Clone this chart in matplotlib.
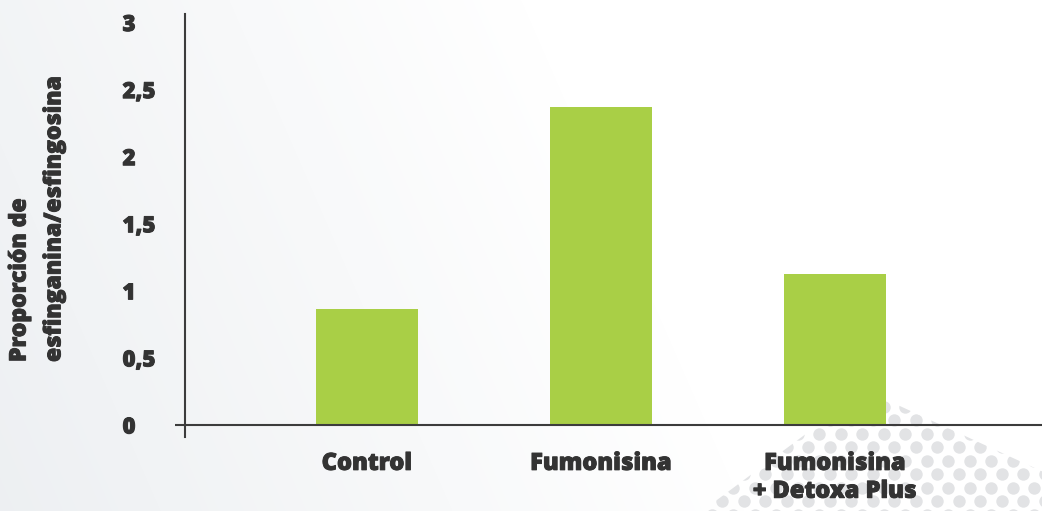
import numpy as np
import matplotlib
matplotlib.use("Agg")
import matplotlib.pyplot as plt
import matplotlib.patheffects as pe
from matplotlib.patches import Polygon

# ratio sphinganine / sphingosine per treatment
categories = ["Control", "Fumonisina", "Fumonisina\n+ Detoxa Plus"]
ratios = [0.86, 2.37, 1.12]
yticks = [0, 0.5, 1, 1.5, 2, 2.5, 3]
ytick_labels = ["0", "0,5", "1", "1,5", "2", "2,5", "3"]

W, H = 1042, 511
bar_color = "#a9cf46"
text_color = "#333333"
line_color = "#3c3c3c"
heavy = [pe.withStroke(linewidth=0.7, foreground=text_color)]
font = dict(family=["Open Sans", "DejaVu Sans"], weight="extra bold", stretch="normal",
            path_effects=heavy)

fig = plt.figure(figsize=(W / 100, H / 100), dpi=100)

# soft grey-to-white background with a dotted motif in the corner
bg = fig.add_axes([0, 0, 1, 1], zorder=0)
bg.set_xlim(0, W)
bg.set_ylim(H, 0)
bg.axis("off")
yy, xx = np.mgrid[0:H, 0:W]
w = np.clip(1 - 1.4 * xx / W + 0.3 * yy / H - 0.3, 0, 1)
grey = np.array([0.93, 0.94, 0.95])
img = (1 - w[..., None]) * 1.0 + w[..., None] * grey
bg.imshow(img, extent=(0, W, H, 0), aspect="auto")

dots_x, dots_y = [], []
for k in range(-6, 8):
    y = 434 + k * 13.5
    for i in range(-20, 8):
        dots_x.append(926.7 + i * 21.5 + (k % 2) * 10.75)
        dots_y.append(y)
dots = bg.scatter(dots_x, dots_y, s=80, color="#e2e3e5", linewidths=0)
region = Polygon([(690, 520), (865, 390), (1050, 475), (1050, 520)],
                 closed=True, transform=bg.transData, visible=False)
bg.add_patch(region)
dots.set_clip_path(region)

ax = fig.add_axes([175 / W, 74 / H, 867 / W, 423 / H], zorder=1)
ax.set_facecolor("none")
x = np.arange(len(categories))
ax.bar(x, ratios, width=0.436, color=bar_color, zorder=2)
ax.axhline(0, color=line_color, linewidth=1.5, zorder=3)

ax.set_xlim(-0.8205, 2.885)
ax.set_ylim(-0.093, 3.06)

for side in ["top", "right", "bottom"]:
    ax.spines[side].set_visible(False)
ax.spines["left"].set_position(("axes", 10 / 867))
ax.spines["left"].set_color(line_color)
ax.spines["left"].set_linewidth(1.5)

ax.set_xticks(x)
ax.set_xticklabels(categories, color=text_color, fontsize=17, linespacing=1.15, **font)
ax.tick_params(axis="x", length=0, pad=10)

ax.set_yticks(yticks)
ax.set_yticklabels(ytick_labels, color=text_color, fontsize=16, ha="left", **font)
ax.tick_params(axis="y", length=0, pad=45)

fig.text(37 / W, (H - 362) / H, "Proporción de\nesfinganina/esfingosina",
         rotation=90, ha="center", va="bottom", multialignment="left",
         color=text_color, fontsize=16.5, linespacing=1.6, **font)

fig.savefig("out.png", dpi=100)
